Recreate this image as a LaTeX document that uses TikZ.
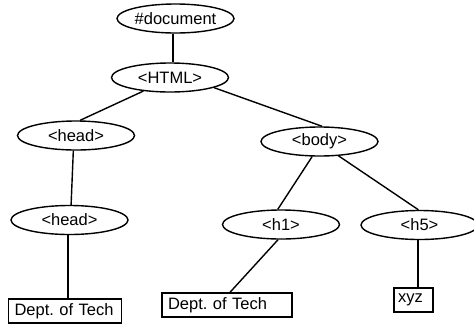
\documentclass[tikz,border=0pt]{standalone}
\usepackage{fontspec}
\setmainfont{Liberation Sans}
\usetikzlibrary{shapes.geometric}
\begin{document}
\frenchspacing
\begin{tikzpicture}[x=1pt,y=-1pt,
  tag/.style={draw,ellipse,line width=1.4pt,minimum width=117pt,minimum height=29pt,inner sep=0pt,font=\fontsize{16.5}{18}\selectfont},
  leaf/.style={draw,rectangle,line width=1.4pt,minimum height=24pt,inner xsep=6pt,inner ysep=0pt,align=left,font=\fontsize{16.5}{18}\selectfont},
  edge/.style={line width=1.4pt}]
\useasboundingbox (0,0) rectangle (474,325);
\node[tag] (doc) at (175.5,18.5) {\#document};
\node[tag] (html) at (170,77.5) {<HTML>};
\node[tag] (head1) at (76,135.5) {<head>};
\node[tag] (body) at (319.5,141.5) {<body>};
\node[tag] (head2) at (69.5,220) {<head>};
\node[tag] (h1) at (281,224.5) {<h1>};
\node[tag] (h5) at (419.5,225) {<h5>};
\node[leaf,text width=101pt] (box1) at (65,311) {Dept. of Tech};
\node[leaf,text width=118pt] (box2) at (227,305) {Dept. of Tech};
\node[leaf,inner xsep=4pt,text width=31pt] (xyz) at (413.5,300) {xyz};
\draw[edge] (doc.south -| 173,0) -- (html.north -| 173,0);
\draw[edge] (html.207) -- (head1.75);
\draw[edge] (html.-13) -- (body.80);
\draw[edge] (head1.260) -- (head2.84);
\draw[edge] (head2.265) -- (head2.265 |- box1.north);
\draw[edge] (body.244) -- (h1.102);
\draw[edge] (body.-37) -- (h5.94);
\draw[edge] (h1.259) -- ([xshift=3pt]box2.north);
\draw[edge] (h5.264) -- (h5.264 |- xyz.north);
\end{tikzpicture}
\end{document}
